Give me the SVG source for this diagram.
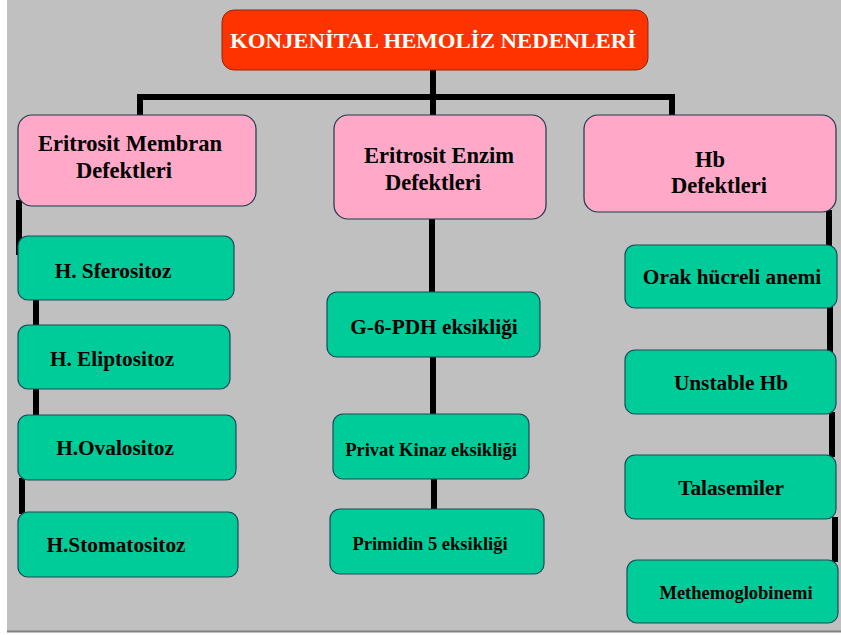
<svg xmlns="http://www.w3.org/2000/svg" width="841" height="635" viewBox="0 0 841 635">
<style>
text{font-family:"Liberation Serif","Times New Roman",serif;font-weight:bold;fill:#000;text-anchor:middle}
.title{fill:#fff;font-size:21px}
.pink rect{fill:#FFA8C8;stroke:#1a3a4a;stroke-width:1.2}
.green rect{fill:#00CC99;stroke:#1a4a5a;stroke-width:1.2}
.pink text{font-size:22.5px}
.green text{font-size:21.3px}
.small text{font-size:18.5px}
.conn line{stroke:#000;stroke-width:6}
</style>
<rect x="0" y="0" width="841" height="635" fill="#fff"/>
<rect x="7" y="0" width="834" height="631" fill="#C0C0C0"/>
<line x1="7" y1="631.5" x2="841" y2="631.5" stroke="#808080" stroke-width="2"/>
<g id="connectors" class="conn">
<line x1="433" y1="70" x2="433" y2="97"/>
<line x1="137" y1="97" x2="675" y2="97"/>
<line x1="140" y1="94" x2="140" y2="118"/>
<line x1="433" y1="94" x2="433" y2="117"/>
<line x1="672" y1="94" x2="672" y2="117"/>
<line x1="19" y1="200" x2="19" y2="255"/>
<line x1="36" y1="298" x2="36" y2="327"/>
<line x1="36" y1="387" x2="36" y2="417"/>
<line x1="22" y1="478" x2="22" y2="514"/>
<line x1="432" y1="217" x2="432" y2="294"/>
<line x1="433" y1="355" x2="433" y2="416"/>
<line x1="434" y1="477" x2="434" y2="511"/>
<line x1="829" y1="210" x2="829" y2="247"/>
<line x1="830" y1="306" x2="830" y2="352"/>
<line x1="832" y1="412" x2="832" y2="457"/>
<line x1="835" y1="517" x2="835" y2="562"/>
</g>
<g id="root">
<rect x="222" y="10" width="426" height="60" rx="12" fill="#FF3300" stroke="#8a2a10" stroke-width="1"/>
<text class="title" x="433" y="48" textLength="406" lengthAdjust="spacingAndGlyphs">KONJENİTAL HEMOLİZ NEDENLERİ</text>
</g>
<g id="membran" class="pink">
<rect x="18" y="115" width="238" height="91" rx="14"/>
<text x="130" y="151">Eritrosit Membran</text>
<text x="124" y="178">Defektleri</text>
</g>
<g id="enzim" class="pink">
<rect x="334" y="115" width="212" height="104" rx="14"/>
<text x="439" y="163">Eritrosit Enzim</text>
<text x="433" y="190">Defektleri</text>
</g>
<g id="hb" class="pink">
<rect x="584" y="115" width="252" height="97" rx="14"/>
<text x="710" y="167">Hb</text>
<text x="719" y="193">Defektleri</text>
</g>
<g id="sferositoz" class="green">
<rect x="18" y="236" width="216" height="64" rx="10"/>
<text x="113" y="278">H. Sferositoz</text>
</g>
<g id="eliptositoz" class="green">
<rect x="18" y="325" width="212" height="64" rx="10"/>
<text x="112" y="366">H. Eliptositoz</text>
</g>
<g id="ovalositoz" class="green">
<rect x="18" y="415" width="218" height="65" rx="10"/>
<text x="115" y="455">H.Ovalositoz</text>
</g>
<g id="stomatositoz" class="green">
<rect x="18" y="512" width="220" height="65" rx="10"/>
<text x="116" y="552">H.Stomatositoz</text>
</g>
<g id="g6pdh" class="green">
<rect x="327" y="292" width="213" height="65" rx="10"/>
<text x="434" y="334">G-6-PDH eksikliği</text>
</g>
<g id="privat" class="green small">
<rect x="333" y="414" width="196" height="65" rx="10"/>
<text x="431" y="456">Privat Kinaz eksikliği</text>
</g>
<g id="primidin" class="green small">
<rect x="330" y="509" width="214" height="65" rx="10"/>
<text x="430" y="550">Primidin 5 eksikliği</text>
</g>
<g id="orak" class="green">
<rect x="625" y="245" width="212" height="63" rx="10"/>
<text x="732" y="284">Orak hücreli anemi</text>
</g>
<g id="unstable" class="green">
<rect x="625" y="350" width="211" height="64" rx="10"/>
<text x="731" y="390">Unstable Hb</text>
</g>
<g id="talasemi" class="green">
<rect x="625" y="455" width="211" height="64" rx="10"/>
<text x="731" y="495">Talasemiler</text>
</g>
<g id="methemo" class="green small">
<rect x="627" y="560" width="211" height="63" rx="10"/>
<text x="736" y="599">Methemoglobinemi</text>
</g>
</svg>
